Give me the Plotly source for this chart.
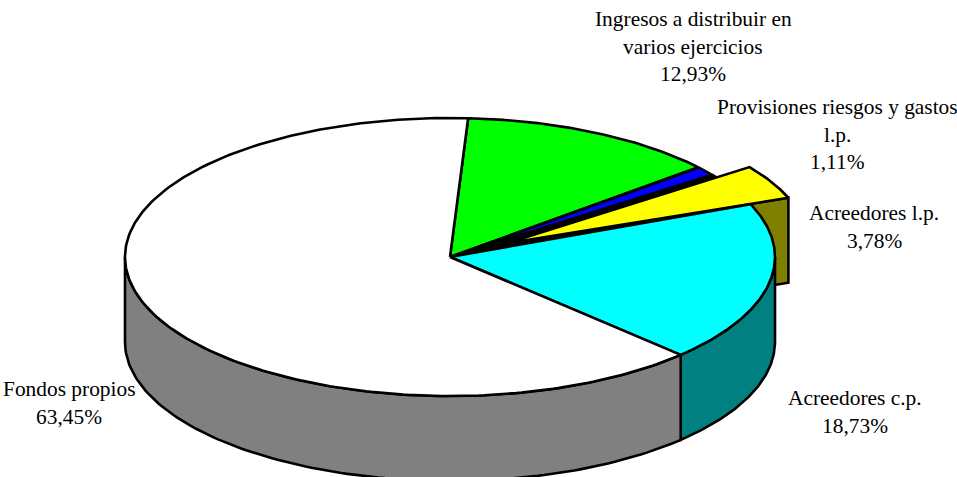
import numpy as np
import plotly.graph_objects as go

# Data, clockwise from the first slice
categories = ["Ingresos a distribuir en|varios ejercicios", "Provisiones riesgos y gastos|l.p.",
              "Acreedores l.p.", "Acreedores c.p.", "Fondos propios"]
values = [12.93, 1.11, 3.78, 18.73, 63.45]
top_colors = ["#00ff00", "#0000ff", "#ffff00", "#00ffff", "#ffffff"]
side_colors = ["#008000", "#000080", "#808000", "#008080", "#808080"]
label_x = [693, 837, 874, 855, 69]
label_y = [19, 107, 213, 398, 389]
line_gap = 27.7

# Projection of the tilted pie
cx, cy, rx, ry, depth = 450, 257, 325, 139, 85
start = 3.2
explode_index = 2
explode = 0.197
explode_radius = 0.93
explode_extra_sweep = 1.9


def rim(theta, r=1.0, ox=0.0, oy=0.0, dz=0.0):
    t = np.radians(theta)
    return cx + ox + r * rx * np.sin(t), cy + oy - r * ry * np.cos(t) + dz


edges = start + np.concatenate([[0], np.cumsum(values)]) * 3.6
fig = go.Figure()


def poly(x, y, fill):
    fig.add_trace(go.Scatter(x=list(x) + [x[0]], y=list(y) + [y[0]], mode="lines", fill="toself",
                             fillcolor=fill, line=dict(color="black", width=2.6), hoverinfo="skip",
                             showlegend=False))


# Exploded slice offset
a0, a1 = edges[explode_index], edges[explode_index + 1]
mid = np.radians((a0 + a1) / 2)
ox, oy = explode * rx * np.sin(mid), -explode * ry * np.cos(mid)
a1_main = a1
a1 += explode_extra_sweep

# Radial wall of the exploded slice
ex, ey = rim(a1, explode_radius, ox, oy)
ax0, ay0 = cx + ox, cy + oy
poly([ax0, ex, ex, ax0], [ay0, ey, ey + depth, ay0 + depth], side_colors[explode_index])

# Dark gap the exploded slice leaves in the main body
th = np.linspace(a0, a1_main, 40)
x, y = rim(th)
poly(np.r_[cx, x], np.r_[cy, y], "black")

# Top of exploded slice
th = np.linspace(a0, a1, 40)
x, y = rim(th, explode_radius, ox, oy)
poly(np.r_[ax0, x], np.r_[ay0, y], top_colors[explode_index])

# Side walls of the main body (front half only)
for i in range(len(values)):
    if i == explode_index:
        continue
    lo, hi = max(edges[i], 90), min(edges[i + 1], 270)
    if hi <= lo:
        continue
    th = np.linspace(lo, hi, 120)
    x, y = rim(th)
    poly(np.r_[x, x[::-1]], np.r_[y, y[::-1] + depth], side_colors[i])

# Tops of the main body
for i in range(len(values)):
    if i == explode_index:
        continue
    th = np.linspace(edges[i], edges[i + 1], 240)
    x, y = rim(th)
    poly(np.r_[cx, x], np.r_[cy, y], top_colors[i])

# Labels
annotations = []
for name, v, lx, ly in zip(categories, values, label_x, label_y):
    lines = name.split("|") + [f"{v:.2f}%".replace(".", ",")]
    for k, line in enumerate(lines):
        annotations.append(dict(x=lx, y=ly + k * line_gap, text=line, showarrow=False,
                                xanchor="center", yanchor="middle",
                                font=dict(family="Liberation Serif", size=21.4, color="black")))

fig.update_layout(
    width=957, height=477, margin=dict(l=0, r=0, t=0, b=0),
    paper_bgcolor="white", plot_bgcolor="white", annotations=annotations,
    xaxis=dict(range=[0, 957], visible=False, fixedrange=True),
    yaxis=dict(range=[477, 0], visible=False, fixedrange=True),
    showlegend=False,
)
fig.write_html("out.html", config=dict(displayModeBar=False),
               post_script="document.body.style.margin='0';document.documentElement.style.overflow='hidden';")
